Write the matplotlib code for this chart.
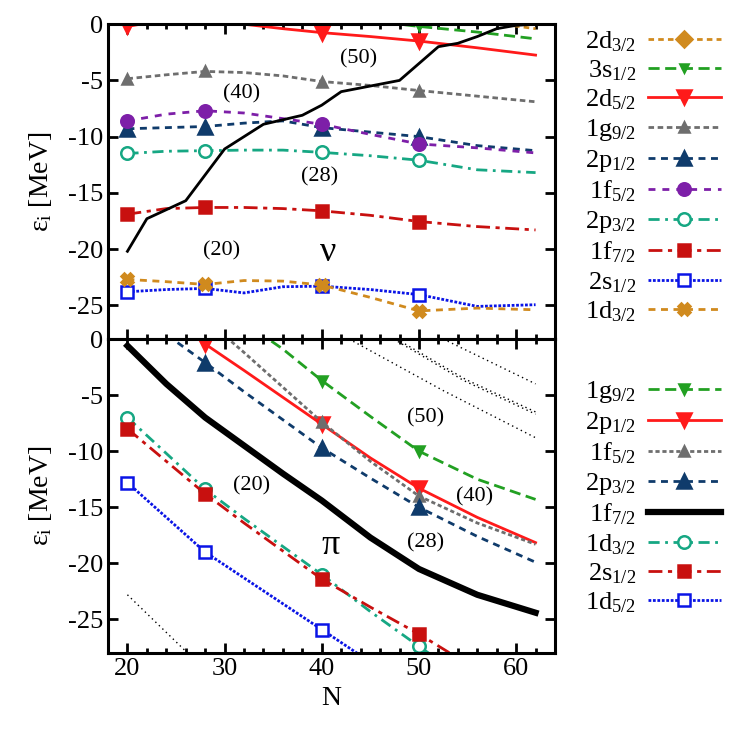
import numpy as np
import matplotlib
matplotlib.use("Agg")
import matplotlib.pyplot as plt

plt.rcParams['font.family'] = ['Liberation Serif', 'DejaVu Serif']
plt.rcParams['mathtext.fontset'] = 'custom'
plt.rcParams['mathtext.rm'] = 'Liberation Serif'
plt.rcParams['mathtext.it'] = 'Liberation Serif:italic'
plt.rcParams['axes.unicode_minus'] = False

# common N grid, markers drawn at N = 20, 28, 40, 50
N = [20, 24, 28, 32, 36, 40, 45, 50, 56, 62]
mark_idx = [0, 2, 5, 7]
nan = np.nan

# ---- neutrons (upper panel) ----
n_2d32 = [nan, nan, nan, nan, nan, nan, 2.0, 1.0, 0.3, -0.4]
n_3s12 = [nan, nan, nan, nan, nan, 0.8, 0.3, -0.2, -0.7, -1.3]
n_2d52 = [-0.2, 0.4, 0.8, 0.0, -0.4, -0.75, -1.1, -1.5, -2.1, -2.75]
n_1g92 = [-4.85, -4.5, -4.2, -4.3, -4.6, -5.1, -5.45, -5.9, -6.4, -6.9]
n_2p12 = [-9.3, -9.2, -9.1, -8.8, -8.6, -9.2, -9.6, -10.0, -10.8, -11.25]
n_1f52 = [-8.6, -8.0, -7.7, -7.9, -8.4, -8.9, -9.8, -10.65, -11.0, -11.45]
n_2p32 = [-11.5, -11.3, -11.25, -11.2, -11.2, -11.4, -11.7, -12.1, -12.95, -13.2]
n_1f72 = [-16.9, -16.4, -16.3, -16.3, -16.4, -16.6, -17.0, -17.55, -18.0, -18.3]
n_2s12 = [-23.8, -23.6, -23.5, -23.9, -23.35, -23.3, -23.6, -24.05, -25.1, -24.95]
n_1d32 = [-22.7, -22.9, -23.15, -22.8, -22.85, -23.2, -24.3, -25.5, -25.25, -25.4]

# neutron Fermi level (black line)
fermi_N = [20, 22, 26, 30, 34, 38, 40, 42, 48, 52, 54, 56, 58, 60, 62]
fermi_E = [-20.2, -17.3, -15.7, -11.1, -8.9, -8.1, -7.2, -6.0, -5.0, -2.0,
           -1.7, -1.1, -0.4, -0.1, 0.0]

# ---- protons (lower panel) ----
p_1g92 = [nan, nan, nan, 1.5, -0.9, -3.7, -6.9, -10.0, -12.5, -14.3]
p_2p12 = [nan, 2.5, -0.45, -2.8, -5.2, -7.6, -10.6, -13.3, -15.9, -18.15]
p_1f52 = [nan, nan, 1.8, -1.2, -4.3, -7.4, -10.9, -14.0, -16.4, -18.3]
p_2p32 = [3.0, 0.4, -2.1, -4.7, -7.2, -9.7, -12.4, -15.0, -17.6, -19.9]
p_1f72 = [-0.6, -4.0, -7.0, -9.5, -12.0, -14.4, -17.7, -20.5, -22.8, -24.4]
p_1d32 = [-7.0, -10.2, -13.4, -16.0, -18.5, -21.0, -24.3, -27.4, -31.0, nan]
p_2s12 = [-8.0, -10.9, -13.8, -16.4, -18.9, -21.4, -23.9, -26.3, -29.5, nan]
p_1d52 = [-12.8, -15.9, -19.0, -21.3, -23.6, -25.9, -28.8, nan, nan, nan]

# thin dotted guide lines in lower panel
guide_lines = [
    ([52.5, 62], [0.0, -4.0]),
    ([47.4, 54.6, 62], [0.0, -3.7, -6.7]),
    ([47.7, 54.8, 62], [0.0, -3.6, -6.5]),
    ([42.8, 52.5, 62], [0.0, -4.6, -8.8]),
    ([20, 26.2], [-22.8, -28.0]),
]

c_orange = '#d08a1e'
c_green = '#22a022'
c_red = '#ff1a1a'
c_gray = '#6e6e6e'
c_navy = '#0f3b6b'
c_purple = '#7d1fa8'
c_teal = '#16a783'
c_dred = '#c8100f'
c_blue = '#0a14e6'

fig = plt.figure(figsize=(7.5, 7.33), dpi=100)
left, right = 0.144, 0.74
ax1 = fig.add_axes([left, 0.5375, right - left, 0.967 - 0.5375])
ax2 = fig.add_axes([left, 0.109, right - left, 0.5375 - 0.109])

lw = 2.0
ms = 9


def curve(ax, y, label, color, ls, marker, msize=ms, mfc=None, lwid=lw):
    ax.plot(N, y, color=color, ls=ls, lw=lwid, marker=marker, markevery=mark_idx,
            ms=msize, mfc=mfc if mfc else color, mec=color, mew=1.8, label=label)


curve(ax1, n_2d32, '2d$_\\mathrm{3/2}$', c_orange, (0, (2, 1.5)), 'D', 8)
curve(ax1, n_3s12, '3s$_\\mathrm{1/2}$', c_green, (0, (4, 2)), 'v', 6)
curve(ax1, n_2d52, '2d$_\\mathrm{5/2}$', c_red, '-', 'v', 10)
curve(ax1, n_1g92, '1g$_\\mathrm{9/2}$', c_gray, (0, (2, 1.3)), '^', 7)
curve(ax1, n_2p12, '2p$_\\mathrm{1/2}$', c_navy, (0, (2.5, 2)), '^', 10)
curve(ax1, n_1f52, '1f$_\\mathrm{5/2}$', c_purple, (0, (2.5, 2.5)), 'o', 9)
curve(ax1, n_2p32, '2p$_\\mathrm{3/2}$', c_teal, (0, (4, 2, 1, 2)), 'o', 9, 'white')
curve(ax1, n_1f72, '1f$_\\mathrm{7/2}$', c_dred, (0, (5, 2, 1.5, 2)), 's', 9)
curve(ax1, n_2s12, '2s$_\\mathrm{1/2}$', c_blue, (0, (1, 0.6)), 's', 9, 'white')
curve(ax1, n_1d32, '1d$_\\mathrm{3/2}$', c_orange, (0, (2.5, 2)), 'X', 9)
ax1.plot(fermi_N, fermi_E, color='black', lw=2.0)

curve(ax2, p_1g92, '1g$_\\mathrm{9/2}$', c_green, (0, (4, 2)), 'v', 7)
curve(ax2, p_2p12, '2p$_\\mathrm{1/2}$', c_red, '-', 'v', 10)
curve(ax2, p_1f52, '1f$_\\mathrm{5/2}$', c_gray, (0, (1.5, 1)), '^', 7)
curve(ax2, p_2p32, '2p$_\\mathrm{3/2}$', c_navy, (0, (2.5, 2)), '^', 10)
ax2.plot(N, p_1f72, color='black', lw=4.5, label='1f$_\\mathrm{7/2}$')
curve(ax2, p_1d32, '1d$_\\mathrm{3/2}$', c_teal, (0, (4, 2, 1, 2)), 'o', 9, 'white')
curve(ax2, p_2s12, '2s$_\\mathrm{1/2}$', c_dred, (0, (5, 2, 1.5, 2)), 's', 9)
curve(ax2, p_1d52, '1d$_\\mathrm{5/2}$', c_blue, (0, (1, 0.6)), 's', 9, 'white')
for gx, gy in guide_lines:
    ax2.plot(gx, gy, color='black', lw=1.0, ls=(0, (1, 2.5)))

tfs = 16
for txt, x, y in [('(50)', 43.8, -3.1), ('(40)', 31.7, -6.2),
                  ('(28)', 39.8, -13.6), ('(20)', 29.7, -20.2)]:
    ax1.text(x, y, txt, fontsize=tfs, ha='center', va='center')
ax1.text(40.7, -20.3, 'ν', fontsize=26, ha='center', va='center')
for txt, x, y in [('(50)', 50.7, -7.0), ('(40)', 55.7, -14.1),
                  ('(28)', 50.7, -18.2), ('(20)', 32.8, -13.1)]:
    ax2.text(x, y, txt, fontsize=tfs, ha='center', va='center')
ax2.text(40.9, -18.4, 'π', fontsize=26, ha='center', va='center')

for ax in (ax1, ax2):
    ax.set_xlim(18, 64)
    ax.set_ylim(-28, 0)
    ax.set_xticks([20, 30, 40, 50, 60])
    ax.set_xticks(np.arange(18, 64, 2), minor=True)
    ax.set_yticks([0, -5, -10, -15, -20, -25])
    ax.tick_params(which='both', direction='in', top=True, right=True,
                   labelsize=19, width=2)
    ax.tick_params(which='major', length=7)
    ax.tick_params(which='minor', length=3.5)
    for s in ax.spines.values():
        s.set_linewidth(2.2)
    ax.set_ylabel('ε$_\\mathrm{i}$ [MeV]', fontsize=20, labelpad=10)
ax1.tick_params(labelbottom=False)
ax2.set_xlabel('N', fontsize=20)

leg_kw = dict(loc='upper left', frameon=False, markerfirst=False, fontsize=19,
              handlelength=2.75, handletextpad=0.45, borderpad=0, borderaxespad=0,
              labelspacing=0.18)
fig.legend(*ax1.get_legend_handles_labels(), bbox_to_anchor=(585 / 750, 1 - 29 / 733), **leg_kw)
fig.legend(*ax2.get_legend_handles_labels(), bbox_to_anchor=(585 / 750, 1 - 379 / 733), **leg_kw)

fig.savefig('out.png', dpi=100)
